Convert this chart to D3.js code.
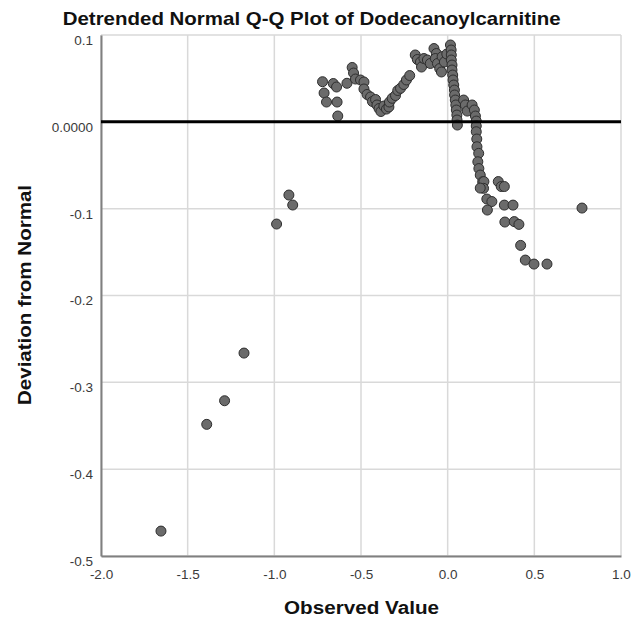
<!DOCTYPE html>
<html>
<head>
<meta charset="utf-8">
<script src="https://cdn.jsdelivr.net/npm/d3@7"></script>
<style>
  html, body { margin: 0; padding: 0; background: #fff; }
  svg { display: block; }
  text { font-family: "Liberation Sans", Arial, sans-serif; }
</style>
</head>
<body>
<svg id="chart" width="634" height="623"></svg>
<script>
// ---- Data ----
const titleText = "Detrended Normal Q-Q Plot of Dodecanoylcarnitine";
const xAxisTitle = "Observed Value";
const yAxisTitle = "Deviation from Normal";

const xTicks = [-2.0, -1.5, -1.0, -0.5, 0.0, 0.5, 1.0];
const xTickLabels = ["-2.0", "-1.5", "-1.0", "-0.5", "0.0", "0.5", "1.0"];
const yTicks = [0.1, 0.0, -0.1, -0.2, -0.3, -0.4, -0.5];
const yTickLabels = ["0.1", "0.0000", "-0.1", "-0.2", "-0.3", "-0.4", "-0.5"];

// observed values
const observed = [
  -1.654, -1.390, -1.287, -1.175, -0.987, -0.916, -0.894,
  -0.722, -0.713, -0.699, -0.660, -0.641, -0.638, -0.634, -0.581, -0.551, -0.543,
  -0.532, -0.503, -0.483, -0.483, -0.465, -0.445, -0.434, -0.416, -0.408, -0.396,
  -0.385, -0.368, -0.353, -0.339, -0.336, -0.320, -0.301, -0.288, -0.272, -0.253,
  -0.238, -0.219,
  -0.187, -0.175, -0.157, -0.151, -0.137, -0.117, -0.100, -0.079, -0.065, -0.071,
  -0.059, -0.046, -0.036, -0.032, -0.019, -0.005,
  0.016, 0.020, 0.021, 0.021, 0.025, 0.025, 0.029, 0.031, 0.035, 0.039, 0.040,
  0.044, 0.047, 0.050, 0.053, 0.054, 0.056,
  0.092, 0.102, 0.113, 0.141, 0.154, 0.160, 0.165, 0.165,
  0.165, 0.168, 0.169, 0.179, 0.174, 0.180, 0.188, 0.202, 0.209, 0.207, 0.188,
  0.226, 0.255, 0.229, 0.292, 0.309, 0.327, 0.327, 0.377, 0.330, 0.384, 0.411,
  0.421, 0.448, 0.498, 0.573, 0.775
];
// deviation from normal
const deviation = [
  -0.4713, -0.3484, -0.3212, -0.2663, -0.1177, -0.0843, -0.0958,
  0.0462, 0.0332, 0.0228, 0.0441, 0.0401, 0.0228, 0.0067, 0.0444, 0.0626, 0.0562,
  0.0493, 0.0482, 0.0459, 0.0378, 0.0315, 0.0286, 0.0234, 0.0257, 0.0194, 0.0153,
  0.0119, 0.0182, 0.0147, 0.0171, 0.0228, 0.0271, 0.0303, 0.0361, 0.0386, 0.0430,
  0.0482, 0.0533,
  0.0770, 0.0718, 0.0689, 0.0631, 0.0729, 0.0712, 0.0672, 0.0844, 0.0787, 0.0729,
  0.0672, 0.0614, 0.0574, 0.0750, 0.0689, 0.0781,
  0.0885, 0.0827, 0.0770, 0.0712, 0.0654, 0.0597, 0.0539, 0.0482, 0.0424, 0.0366, 0.0309,
  0.0251, 0.0194, 0.0136, 0.0078, 0.0021, -0.0037,
  0.0251, 0.0194, 0.0124, 0.0194, 0.0136, 0.0067, 0.0009, -0.0048,
  -0.0114, -0.0198, -0.0287, -0.0363, -0.0460, -0.0538, -0.0613, -0.0690, -0.0688, -0.0766, -0.0763,
  -0.0889, -0.0918, -0.1016, -0.0688, -0.0745, -0.0745, -0.0959, -0.0959, -0.1154, -0.1149, -0.1181,
  -0.1423, -0.1592, -0.1638, -0.1638, -0.0993
];

// ---- Drawing ----
(function () {
const svg = d3.select("#chart");
const pLeft = 101, pRight = 621, pTop = 35, pBottom = 556;

const x = d3.scaleLinear().domain([-2, 1]).range([pLeft, pRight]);
const y = d3.scaleLinear().domain([-0.5, 0.1]).range([pBottom, pTop]);

// gridlines
const grid = svg.append("g");
grid.selectAll("line.vg").data(xTicks).join("line").attr("class", "vg")
  .attr("x1", d => x(d)).attr("x2", d => x(d))
  .attr("y1", pTop).attr("y2", pBottom)
  .attr("stroke", "#d9d9d9").attr("stroke-width", 1.5);
grid.selectAll("line.hg").data(yTicks).join("line").attr("class", "hg")
  .attr("x1", pLeft).attr("x2", pRight)
  .attr("y1", d => y(d)).attr("y2", d => y(d))
  .attr("stroke", "#d9d9d9").attr("stroke-width", 1.5);

// axes (built with d3 axes, styled)
const xAxis = d3.axisBottom(x).tickValues(xTicks)
  .tickFormat((d, i) => xTickLabels[i]).tickSize(0).tickPadding(13);
const gx = svg.append("g").attr("transform", `translate(0,${pBottom})`).call(xAxis);
gx.select(".domain").attr("stroke", "#808080").attr("stroke-width", 2);
gx.selectAll("text").attr("font-size", 13.5).attr("fill", "#3a3a3a")
  .attr("font-family", "'Liberation Sans', Arial, sans-serif");

const yAxis = d3.axisLeft(y).tickValues(yTicks)
  .tickFormat((d, i) => yTickLabels[i]).tickSize(0).tickPadding(8);
const gy = svg.append("g").attr("transform", `translate(${pLeft},0)`).call(yAxis);
gy.select(".domain").attr("stroke", "#808080").attr("stroke-width", 2);
gy.selectAll("text").attr("font-size", 13.5).attr("fill", "#3a3a3a")
  .attr("dy", "0.7em")
  .attr("font-family", "'Liberation Sans', Arial, sans-serif");

// points
const pts = observed.map((v, i) => ({ x: v, y: deviation[i] }));
svg.append("g").selectAll("circle").data(pts).join("circle")
  .attr("cx", d => x(d.x)).attr("cy", d => y(d.y)).attr("r", 5)
  .attr("fill", "#6b6b6b").attr("stroke", "#2e2e2e").attr("stroke-width", 1);

// zero reference line
svg.append("line")
  .attr("x1", pLeft).attr("x2", pRight)
  .attr("y1", y(0)).attr("y2", y(0))
  .attr("stroke", "#000").attr("stroke-width", 3);

// titles
svg.append("text")
  .attr("x", 62.7).attr("y", 25)
  .attr("font-size", 18.5).attr("font-weight", "bold").attr("fill", "#111")
  .attr("textLength", 498).attr("lengthAdjust", "spacingAndGlyphs")
  .text(titleText);

svg.append("text")
  .attr("x", 284).attr("y", 614)
  .attr("font-size", 18).attr("font-weight", "bold").attr("fill", "#111")
  .attr("textLength", 155).attr("lengthAdjust", "spacingAndGlyphs")
  .text(xAxisTitle);

svg.append("text")
  .attr("transform", "translate(31,405) rotate(-90)")
  .attr("x", 0).attr("y", 0)
  .attr("font-size", 18).attr("font-weight", "bold").attr("fill", "#111")
  .attr("textLength", 220).attr("lengthAdjust", "spacingAndGlyphs")
  .text(yAxisTitle);
})();
</script>
</body>
</html>
